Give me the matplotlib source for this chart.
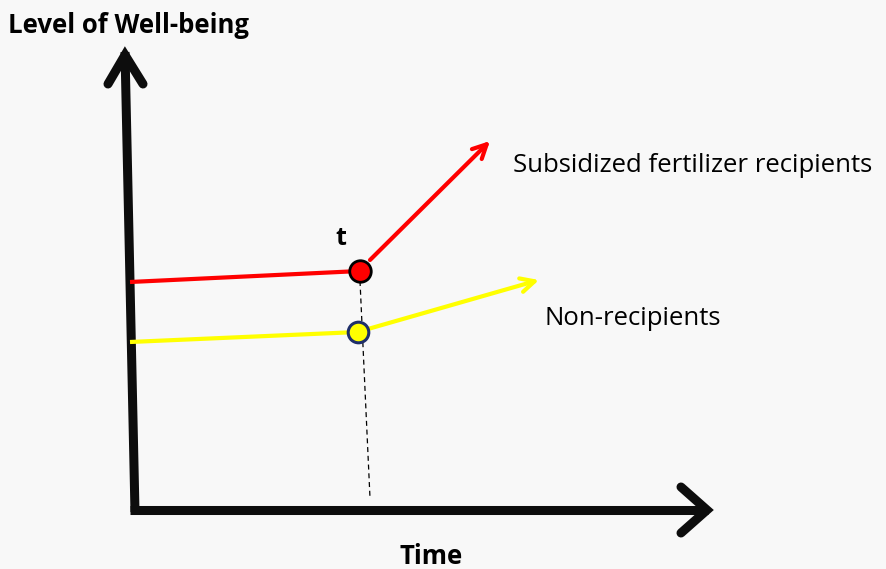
import matplotlib.pyplot as plt

# diagram coordinates (pixel-like units, y grows downward)
yaxis_x = [135, 125]
yaxis_y = [512, 52]
xaxis_x = [130, 708]
xaxis_y = [510, 510]

red_before_x = [130, 360]
red_before_y = [282, 271]
red_after_x = [370, 490]
red_after_y = [260, 141]

yel_before_x = [130, 358]
yel_before_y = [342, 332]
yel_after_x = [368, 539]
yel_after_y = [329, 280]

t_point_x = [360, 358]
t_point_y = [271, 332]

labels = ["Subsidized fertilizer recipients", "Non-recipients"]

plt.rcParams['font.family'] = ['Open Sans', 'DejaVu Sans']
fig = plt.figure(figsize=(8.87, 5.69), dpi=100, facecolor='#f8f8f8')
ax = fig.add_axes([0, 0, 1, 1])
ax.set_facecolor('#f8f8f8')
ax.set_xlim(0, 887)
ax.set_ylim(569, 0)
ax.axis('off')

# axes with arrow heads
ax.plot(yaxis_x, yaxis_y, color='#0d0d0d', lw=6.5, solid_capstyle='butt')
ax.plot([108, 125, 143], [84, 55, 84], color='#0d0d0d', lw=6.5,
        solid_capstyle='round', solid_joinstyle='miter')
ax.plot(xaxis_x, xaxis_y, color='#0d0d0d', lw=6.5, solid_capstyle='butt')
ax.plot([681, 707, 681], [487, 510, 533], color='#0d0d0d', lw=6.5,
        solid_capstyle='round', solid_joinstyle='miter')

# dashed line at t
ax.plot([360, 370], [281, 498], color='black', lw=0.9, ls=(0, (4, 3)))

# red series
ax.plot(red_before_x, red_before_y, color='#ff0000', lw=3, solid_capstyle='butt')
ax.annotate('', xy=(red_after_x[1], red_after_y[1]), xytext=(red_after_x[0], red_after_y[0]),
            arrowprops=dict(arrowstyle='->,head_length=1.0,head_width=0.5',
                            color='#ff0000', lw=3, shrinkA=0, shrinkB=0))

# yellow series
ax.plot(yel_before_x, yel_before_y, color='#ffff00', lw=3, solid_capstyle='butt')
ax.annotate('', xy=(yel_after_x[1], yel_after_y[1]), xytext=(yel_after_x[0], yel_after_y[0]),
            arrowprops=dict(arrowstyle='->,head_length=1.0,head_width=0.5',
                            color='#ffff00', lw=3, shrinkA=0, shrinkB=0))

# markers at t
ax.scatter([t_point_x[0]], [t_point_y[0]], s=240, color='#ff0000',
           edgecolor='black', linewidth=2, zorder=5)
ax.scatter([t_point_x[1]], [t_point_y[1]], s=220, color='#ffff00',
           edgecolor='#1f2f6a', linewidth=2.2, zorder=5)

# text
ax.text(8, 25, "Level of Well-being", fontsize=18.5, fontweight='bold',
        ha='left', va='center')
ax.text(431, 556, "Time", fontsize=18.5, fontweight='bold', ha='center', va='center')
ax.text(341, 238, "t", fontsize=18, fontweight='bold', ha='center', va='center')
ax.text(513, 165, labels[0], fontsize=18.5, ha='left', va='center')
ax.text(545, 318, labels[1], fontsize=18.5, ha='left', va='center')

fig.savefig('out.png', dpi=100, facecolor=fig.get_facecolor())
